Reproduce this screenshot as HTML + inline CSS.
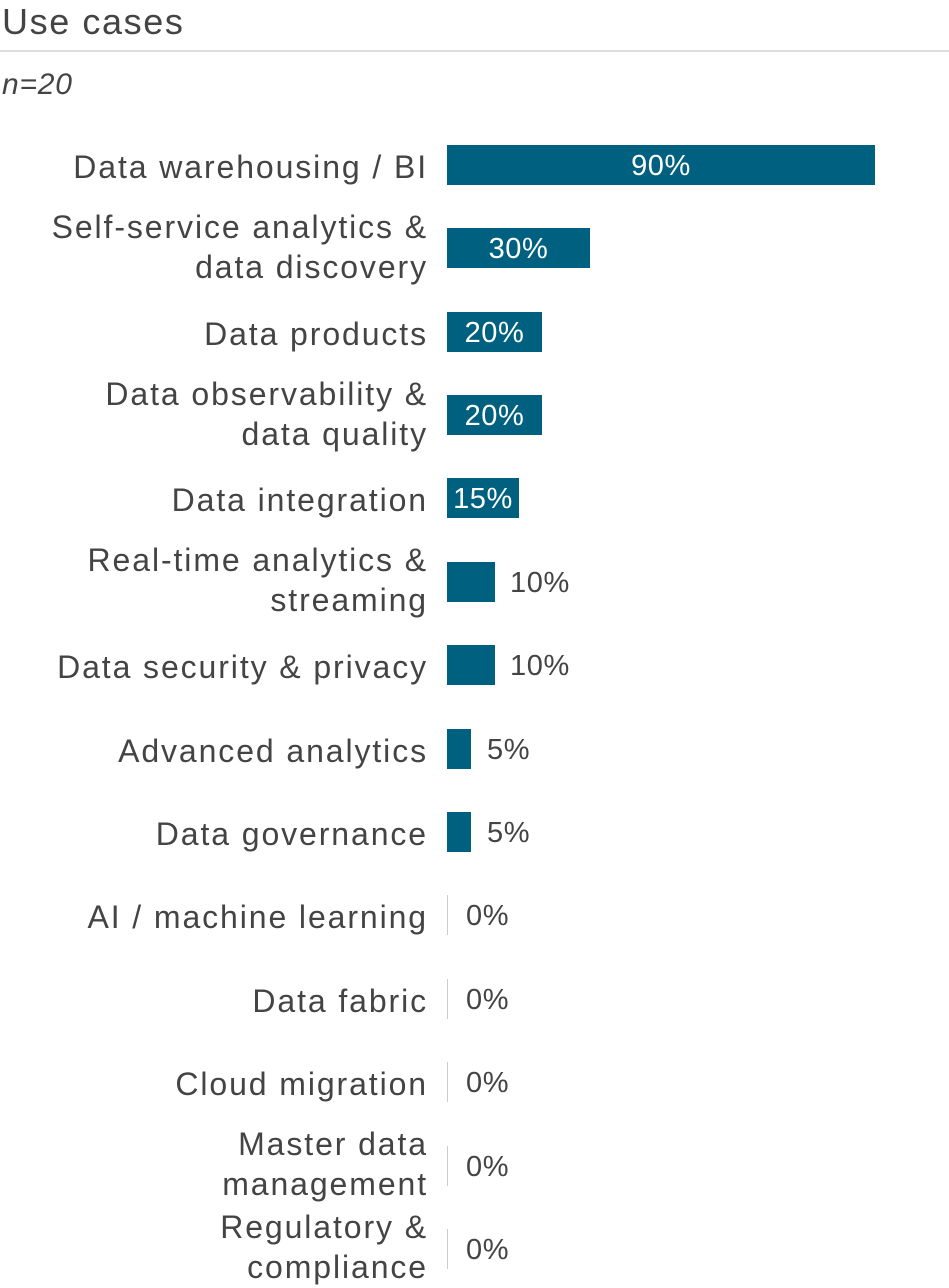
<!DOCTYPE html>
<html><head><meta charset="utf-8"><style>
body{margin:0;width:949px;height:1288px;background:#fff;font-family:"Liberation Sans",sans-serif;color:#444;position:relative;overflow:hidden}
.a{position:absolute}
.t{left:2px;top:1px;font-size:36px;line-height:42px;letter-spacing:1.6px}
.hr{left:0;top:50px;width:949px;height:2px;background:#ddd}
.n{left:2px;top:67px;font-size:30px;font-style:italic;line-height:36px;letter-spacing:0.8px}
.l{right:521px;font-size:32px;line-height:40px;text-align:right;white-space:nowrap;letter-spacing:1.9px;top:2px}
.b{left:447px;height:40px;background:#006080}
.v{font-size:29px;line-height:40px;white-space:nowrap;letter-spacing:0.6px}
.w{color:#fff;text-align:center}
.z{left:447px;width:1px;height:40px;background:#ccc}
</style></head><body>
<div class="a t">Use cases</div>
<div class="a hr"></div>
<div class="a n">n=20</div>

<div class="a l" style="top:147px">Data warehousing / BI</div>
<div class="a b" style="top:145px;width:428px"></div>
<div class="a v w" style="left:447px;width:428px;top:146px">90%</div>

<div class="a l" style="top:207px">Self-service analytics &amp;<br>data discovery</div>
<div class="a b" style="top:228px;width:143px"></div>
<div class="a v w" style="left:447px;width:143px;top:229px">30%</div>

<div class="a l" style="top:314px">Data products</div>
<div class="a b" style="top:312px;width:95px"></div>
<div class="a v w" style="left:447px;width:95px;top:313px">20%</div>

<div class="a l" style="top:374px">Data observability &amp;<br>data quality</div>
<div class="a b" style="top:395px;width:95px"></div>
<div class="a v w" style="left:447px;width:95px;top:396px">20%</div>

<div class="a l" style="top:480px">Data integration</div>
<div class="a b" style="top:478px;width:72px"></div>
<div class="a v w" style="left:447px;width:72px;top:479px">15%</div>

<div class="a l" style="top:540px">Real-time analytics &amp;<br>streaming</div>
<div class="a b" style="top:562px;width:48px"></div>
<div class="a v" style="left:510px;top:563px">10%</div>

<div class="a l" style="top:647px">Data security &amp; privacy</div>
<div class="a b" style="top:645px;width:48px"></div>
<div class="a v" style="left:510px;top:646px">10%</div>

<div class="a l" style="top:731px">Advanced analytics</div>
<div class="a b" style="top:729px;width:24px"></div>
<div class="a v" style="left:487px;top:730px">5%</div>

<div class="a l" style="top:814px">Data governance</div>
<div class="a b" style="top:812px;width:24px"></div>
<div class="a v" style="left:487px;top:813px">5%</div>

<div class="a l" style="top:897px">AI / machine learning</div>
<div class="a z" style="top:895px"></div>
<div class="a v" style="left:466px;top:896px">0%</div>

<div class="a l" style="top:981px">Data fabric</div>
<div class="a z" style="top:979px"></div>
<div class="a v" style="left:466px;top:980px">0%</div>

<div class="a l" style="top:1064px">Cloud migration</div>
<div class="a z" style="top:1062px"></div>
<div class="a v" style="left:466px;top:1063px">0%</div>

<div class="a l" style="top:1124px">Master data<br>management</div>
<div class="a z" style="top:1146px"></div>
<div class="a v" style="left:466px;top:1147px">0%</div>

<div class="a l" style="top:1207px">Regulatory &amp;<br>compliance</div>
<div class="a z" style="top:1229px"></div>
<div class="a v" style="left:466px;top:1230px">0%</div>
</body></html>
